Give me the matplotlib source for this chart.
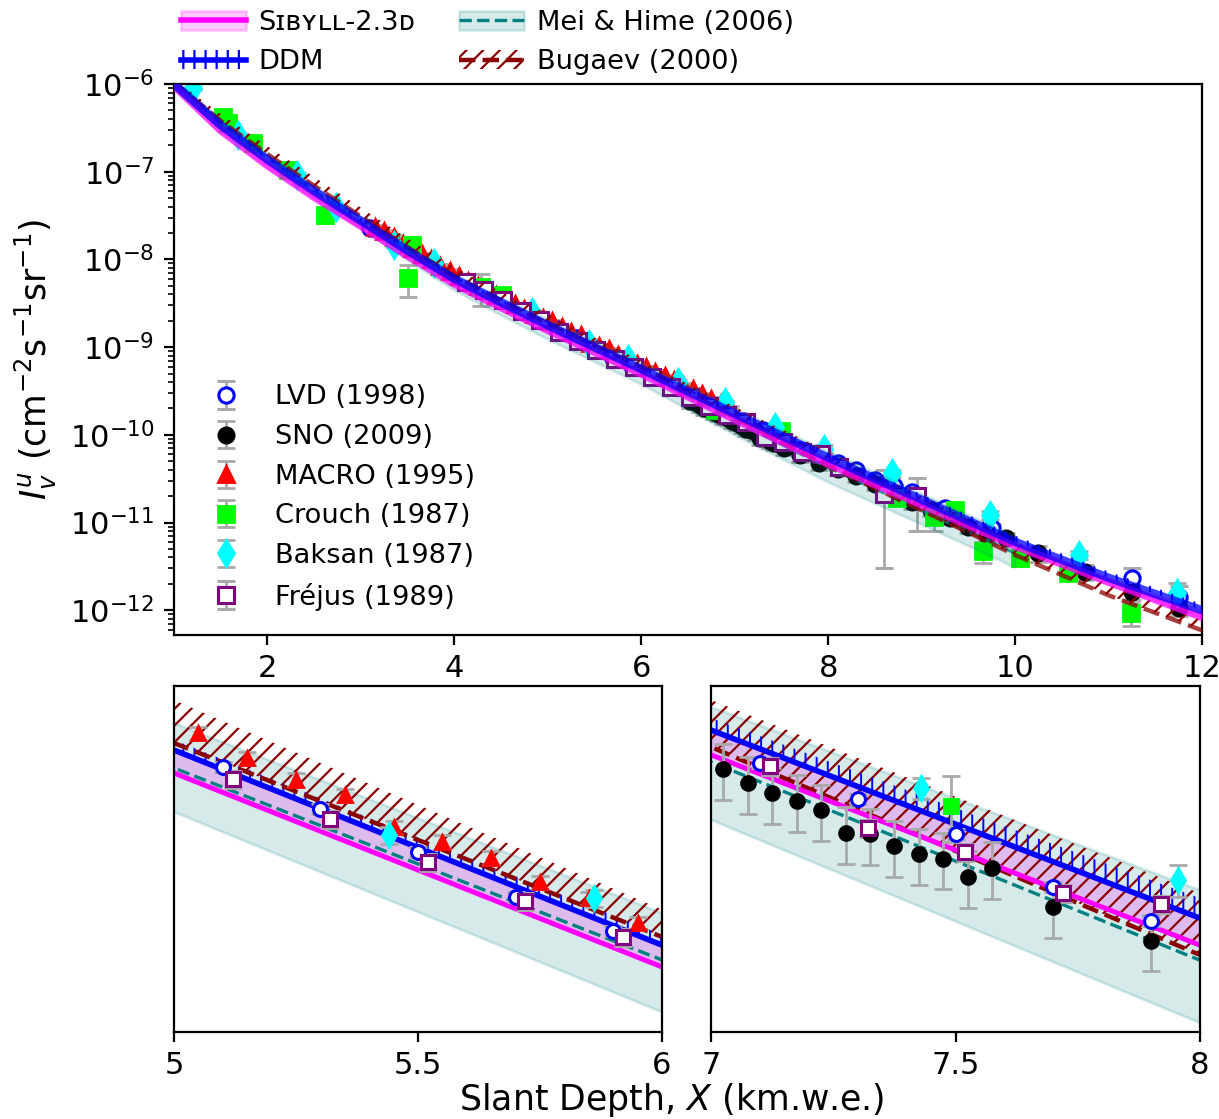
import matplotlib
matplotlib.use('Agg')
import matplotlib.pyplot as plt
import numpy as np
from matplotlib.patches import Patch
from matplotlib.lines import Line2D
from matplotlib.ticker import NullLocator

# ---- model curves, log10 of intensity ----
x_mod = [1, 1.5, 2, 2.5, 3, 3.5, 4, 4.5, 5, 6, 7, 8, 9, 10, 11, 12]
ddm = [-6.00, -6.47, -6.86, -7.22, -7.56, -7.90, -8.22, -8.49, -8.75, -9.25,
       -9.76, -10.26, -10.74, -11.22, -11.63, -12.00]
ddm_hi = [-5.97, -6.44, -6.83, -7.19, -7.53, -7.87, -8.19, -8.46, -8.724, -9.224,
          -9.728, -10.207, -10.68, -11.15, -11.56, -11.93]
sib = [-6.02, -6.53, -6.93, -7.29, -7.62, -7.96, -8.28, -8.55, -8.809, -9.306,
       -9.826, -10.332, -10.80, -11.27, -11.68, -12.08]
sib_hi = [-6.005, -6.475, -6.865, -7.225, -7.565, -7.905, -8.225, -8.495, -8.755,
          -9.255, -9.765, -10.265, -10.745, -11.225, -11.635, -12.005]
bug = [-5.98, -6.42, -6.80, -7.16, -7.51, -7.86, -8.19, -8.47, -8.732, -9.229,
       -9.805, -10.358, -10.86, -11.37, -11.83, -12.23]
bug_hi = [-5.95, -6.34, -6.71, -7.06, -7.41, -7.76, -8.09, -8.37, -8.622, -9.159,
          -9.680, -10.194, -10.70, -11.22, -11.70, -12.11]
x_mei = [1, 1.5, 2, 2.5, 3, 3.5, 4, 4.5, 5, 6, 7, 8, 9, 10]
mei = [-5.97, -6.44, -6.84, -7.22, -7.58, -7.93, -8.25, -8.53, -8.796, -9.288,
       -9.845, -10.372, -10.86, -11.35]
mei_hi = [-5.94, -6.40, -6.79, -7.16, -7.51, -7.85, -8.17, -8.43, -8.681, -9.168,
          -9.699, -10.186, -10.67, -11.15]
mei_lo = [-6.01, -6.50, -6.91, -7.29, -7.65, -8.01, -8.35, -8.635, -8.909, -9.422,
          -9.999, -10.539, -11.02, -11.51]

# ---- measurements: depth, log10 intensity, relative error ----
lvd_x = [3.1, 5.1, 5.3, 5.5, 5.7, 5.9, 7.1, 7.3, 7.5, 7.7, 7.9, 8.1, 8.3, 8.5, 8.7,
         8.9, 9.25, 9.75, 11.25, 11.75]
lvd_y = [-7.64, -8.794, -8.901, -9.012, -9.127, -9.214, -9.848, -9.944, -10.037,
         -10.178, -10.268, -10.32, -10.40, -10.52, -10.58, -10.65, -10.83, -11.06,
         -11.63, -11.85]
lvd_e = [0.03] * 16 + [0.08, 0.1, 0.3, 0.35]

sno_x = [6.525, 6.575, 6.625, 6.675, 6.725, 6.775, 6.825, 6.875, 6.925, 6.975,
         7.025, 7.075, 7.125, 7.175, 7.225, 7.275, 7.325, 7.375, 7.425, 7.475,
         7.525, 7.575, 7.7, 7.9, 8.1, 8.3, 8.5, 8.7, 8.9, 9.1, 9.3, 9.5, 9.7, 9.9,
         10.25, 10.75, 11.25, 11.75]
sno_y = [-9.61, -9.63, -9.66, -9.69, -9.71, -9.74, -9.76, -9.79, -9.81, -9.84,
         -9.864, -9.901, -9.928, -9.949, -9.973, -10.034, -10.037, -10.069, -10.090,
         -10.103, -10.151, -10.127, -10.231, -10.321, -10.39, -10.47, -10.56, -10.66,
         -10.77, -10.86, -10.95, -11.05, -11.14, -11.18, -11.35, -11.56, -11.79, -11.97]
sno_e = [0.17] * 24 + [0.15] * 10 + [0.2] * 4

macro_x = [3.15, 3.25, 3.35, 3.45, 3.55, 3.65, 3.75, 3.85, 3.95, 4.05, 4.15, 4.25,
           4.35, 4.45, 4.55, 4.65, 4.75, 4.85, 4.95, 5.05, 5.15, 5.25, 5.35, 5.45,
           5.55, 5.65, 5.75, 5.85, 5.95, 6.05, 6.15, 6.25, 6.35, 6.45, 6.55, 6.65,
           6.75, 6.85, 6.95]
macro_y = [-7.63, -7.68, -7.74, -7.82, -7.87, -7.94, -8.00, -8.07, -8.13, -8.19,
           -8.25, -8.30, -8.35, -8.41, -8.46, -8.51, -8.57, -8.62, -8.67, -8.707,
           -8.771, -8.827, -8.866, -8.948, -8.986, -9.027, -9.089, -9.130, -9.194,
           -9.23, -9.28, -9.33, -9.38, -9.43, -9.48, -9.54, -9.59, -9.64, -9.69]
macro_e = [0.04] * 39

crouch_x = [1.52, 1.58, 1.85, 2.22, 2.62, 3.50, 3.55, 4.28, 4.51, 6.79, 7.49, 8.74,
            9.13, 9.36, 9.66, 10.05, 10.57, 11.24]
crouch_y = [-6.376, -6.445, -6.673, -6.98, -7.49, -8.21, -7.84, -8.31, -8.41, -9.72,
            -9.962, -10.72, -10.94, -10.86, -11.33, -11.40, -11.58, -12.03]
crouch_e = [0.05, 0.05, 0.05, 0.05, 0.2, 0.4, 0.05, 0.4, 0.1, 0.1, 0.2, 0.1,
            0.3, 0.1, 0.27, 0.2, 0.15, 0.3]

baksan_x = [1.20, 1.69, 2.32, 2.73, 3.35, 3.78, 4.83, 5.44, 5.86, 6.39, 6.90, 7.43,
            7.955, 8.68, 9.73, 10.68, 11.73]
baksan_y = [-6.05, -6.58, -7.04, -7.40, -7.84, -8.04, -8.60, -8.968, -9.13, -9.40,
            -9.63, -9.914, -10.159, -10.44, -10.91, -11.37, -11.80]
baksan_e = [0.05] * 11 + [0.065, 0.1, 0.1, 0.1, 0.1, 0.3]

frejus_x = [4.12, 4.32, 4.52, 4.72, 4.92, 5.12, 5.32, 5.52, 5.72, 5.92, 6.12, 6.32,
            6.52, 6.72, 6.92, 7.12, 7.32, 7.52, 7.72, 7.92, 8.12, 8.6, 8.95]
frejus_y = [-8.258, -8.349, -8.463, -8.588, -8.691, -8.824, -8.927, -9.037, -9.137,
            -9.230, -9.341, -9.455, -9.569, -9.67, -9.774, -9.856, -10.021, -10.085,
            -10.194, -10.223, -10.367, -10.67, -10.70]
frejus_e = [0.05] * 21 + [0.86, 0.6]

DPI = 200
FS_TICK = 11
FS_LAB = 12.5
FS_LEG = 9.8
HATCH_BUG = '////'
HATCH_DDM = '|||'


def draw_models(ax, main):
    a = 0.75 if main else 1.0
    z = 3 if main else 1
    lw = 3.0 if main else 2.0
    ax.fill_between(x_mei, 10 ** np.array(mei_lo), 10 ** np.array(mei_hi),
                    color='teal', alpha=0.16, zorder=z)
    ax.fill_between(x_mod, 10 ** np.array(sib), 10 ** np.array(sib_hi),
                    color='magenta', alpha=0.2, zorder=z)
    ax.plot(x_mei, 10 ** np.array(mei), '--', color='teal', lw=1.2, alpha=a, zorder=z + 0.1)
    with plt.rc_context({'hatch.linewidth': 0.8}):
        ax.fill_between(x_mod, 10 ** np.array(bug), 10 ** np.array(bug_hi),
                        facecolor='none', edgecolor='darkred', hatch=HATCH_BUG, lw=0,
                        zorder=z + 0.2)
    with plt.rc_context({'hatch.linewidth': 0.7}):
        ax.fill_between(x_mod, 10 ** np.array(ddm), 10 ** np.array(ddm_hi),
                        facecolor='none', edgecolor='blue', hatch=HATCH_DDM, lw=0,
                        zorder=z + 0.2)
    ax.plot(x_mod, 10 ** np.array(bug), '--', color='darkred', lw=1.6, alpha=a, zorder=z + 0.3)
    ax.plot(x_mod, 10 ** np.array(sib), color='magenta', lw=lw * 0.9, alpha=a, zorder=z + 0.4)
    ax.plot(x_mod, 10 ** np.array(ddm), color='blue', lw=lw, alpha=a, zorder=z + 0.5)


def draw_data(ax, main):
    z = 2 if main else 5
    ms = 5.5 if main else 5
    sets = [
        (lvd_x, lvd_y, lvd_e, 'o', dict(mfc='white', mec='blue', mew=1.1), 'LVD (1998)'),
        (sno_x, sno_y, sno_e, 'o', dict(color='black'), 'SNO (2009)'),
        (macro_x, macro_y, macro_e, '^', dict(color='red'), 'MACRO (1995)'),
        (crouch_x, crouch_y, crouch_e, 's', dict(color='lime'), 'Crouch (1987)'),
        (baksan_x, baksan_y, baksan_e, 'd', dict(color='cyan', ms=ms + 1), 'Baksan (1987)'),
        (frejus_x, frejus_y, frejus_e, 's', dict(mfc='white', mec='purple', mew=1.1), 'Fréjus (1989)'),
    ]
    for x, lg, rel, m, kw, lab in sets:
        y = 10 ** np.array(lg)
        style = dict(ms=ms)
        style.update(kw)
        ax.errorbar(x, y, yerr=y * np.array(rel), fmt=m, ecolor='darkgray', elinewidth=1,
                    capsize=3.2, capthick=1, zorder=z, label=lab if main else None, **style)


def main():
    plt.rcParams['font.size'] = FS_TICK
    fig = plt.figure(figsize=(1219 / DPI, 1119 / DPI), dpi=DPI)

    ax = fig.add_axes([0.1427, 0.4325, 0.8434, 0.4924])
    ax.set_yscale('log')
    draw_data(ax, True)
    draw_models(ax, True)
    ax.set_xlim(1, 12)
    ax.set_ylim(10 ** -12.283, 1e-6)
    ax.set_ylabel(r'$I_v^u$ (cm$^{-2}$s$^{-1}$sr$^{-1}$)', fontsize=FS_LAB, labelpad=4)
    ax.legend(loc='lower left', frameon=False, fontsize=FS_LEG, labelspacing=0.5,
              borderaxespad=0.5, handletextpad=0.8)

    # zoomed panels
    ax1 = fig.add_axes([0.1427, 0.0777, 0.4003, 0.3092])
    ax2 = fig.add_axes([0.5833, 0.0777, 0.4011, 0.3092])
    for a, xl, yl, ticks in [(ax1, (5, 6), (-9.473, -8.586), [5, 5.5, 6]),
                             (ax2, (7, 8), (-10.563, -9.643), [7, 7.5, 8])]:
        a.set_yscale('log')
        draw_models(a, False)
        draw_data(a, False)
        a.set_xlim(*xl)
        a.set_ylim(10 ** yl[0], 10 ** yl[1])
        a.yaxis.set_major_locator(NullLocator())
        a.yaxis.set_minor_locator(NullLocator())
        a.set_xticks(ticks)
        a.set_xticklabels(['%g' % t for t in ticks])

    fig.text(0.551, 0.017, r'Slant Depth, $X$ (km.w.e.)', ha='center', va='center',
             fontsize=FS_LAB)

    # model legend above the main panel
    with plt.rc_context({'hatch.linewidth': 0.8}):
        h_sib = (Patch(facecolor='magenta', edgecolor='magenta', alpha=0.2),
                 Line2D([], [], color='magenta', lw=2))
        h_ddm = (Patch(facecolor='none', edgecolor='blue', hatch=HATCH_DDM, lw=0),
                 Line2D([], [], color='blue', lw=2))
        h_mei = (Patch(facecolor='teal', edgecolor='teal', alpha=0.16),
                 Line2D([], [], color='teal', ls='--', lw=1.2))
        h_bug = (Patch(facecolor='none', edgecolor='darkred', hatch=HATCH_BUG, lw=0),
                 Line2D([], [], color='darkred', ls='--', lw=1.6))
        fig.legend([h_sib, h_ddm, h_mei, h_bug],
                   ['Sɪʙʏʟʟ-2.3ᴅ', 'DDM', 'Mei & Hime (2006)', 'Bugaev (2000)'],
                   loc='upper left', bbox_to_anchor=(0.135, 1.006), ncol=2, frameon=False,
                   fontsize=FS_LEG, labelspacing=0.5, borderpad=0.1, columnspacing=1.6,
                   handlelength=2.4, handletextpad=0.45)

    fig.savefig('out.png', dpi=DPI)


if __name__ == '__main__':
    main()
